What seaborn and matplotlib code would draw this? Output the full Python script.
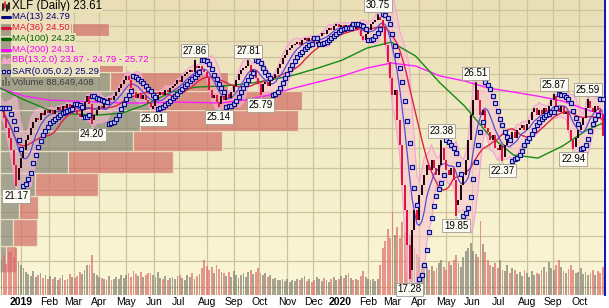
import numpy as np
import pandas as pd
import matplotlib
matplotlib.use("Agg")
import matplotlib.pyplot as plt
import seaborn as sns
from matplotlib.lines import Line2D
from matplotlib.patches import Polygon, Rectangle
from matplotlib.ticker import NullLocator
from matplotlib.transforms import offset_copy

# ---------------------------------------------------------------- data
start_date = "2018-12-07"
end_date = "2020-10-28"

# closes, one every second trading day (trading-day index 1, 3, 5, ...)
closes = [
    25.07, 24.53, 24.00, 23.49, 22.88, 22.15, 21.43, 22.01, 22.49, 22.88,
    23.39, 23.64, 24.00, 24.32, 24.53, 24.43, 24.80, 24.69, 24.96, 24.80,
    24.96, 24.75, 24.96, 25.13, 24.91, 25.18, 25.07, 25.29, 25.07, 25.23,
    24.96, 24.75, 24.59, 24.96, 25.40, 25.73, 25.29, 24.43, 24.69, 24.96,
    25.18, 25.07, 25.40, 25.29, 25.62, 25.51, 25.73, 25.96, 26.18, 26.41,
    26.64, 26.88, 26.64, 26.18, 25.96, 25.62, 25.84, 25.57, 25.79, 25.51,
    25.35, 25.13, 25.18, 25.51, 25.79, 25.96, 25.79, 26.07, 25.96, 26.18,
    26.30, 26.41, 26.64, 26.53, 26.88, 27.00, 27.11, 27.23, 27.11, 27.47,
    27.35, 27.47, 27.23, 27.11, 26.76, 26.07, 25.62, 25.79, 25.40, 25.29,
    25.73, 25.51, 25.84, 25.62, 25.96, 26.30, 26.64, 27.00, 27.23, 27.35,
    27.47, 27.53, 27.11, 27.23, 26.76, 26.41, 25.96, 26.41, 26.53, 26.30,
    26.64, 26.76, 27.00, 27.35, 27.59, 27.95, 28.13, 28.44, 28.56, 28.75,
    28.81, 28.94, 28.75, 29.06, 29.19, 29.00, 29.19, 29.06, 28.81, 28.94,
    29.32, 29.51, 29.45, 29.70, 29.83, 29.70, 29.96, 30.09, 29.90, 30.03,
    29.83, 30.03, 29.90, 30.09, 29.77, 29.96, 29.70, 29.32, 29.06, 29.45,
    29.70, 30.09, 30.23, 30.36, 30.56, 30.36, 29.96, 28.75, 27.71, 26.76,
    25.79, 26.07, 24.43, 23.13, 21.21, 20.07, 18.61, 17.63, 19.22, 20.07,
    19.64, 20.75, 21.21, 21.67, 22.15, 21.90, 22.39, 22.01, 21.67, 22.15,
    22.98, 22.39, 21.90, 21.67, 22.01, 21.43, 20.30, 20.52, 21.21, 21.67,
    22.39, 23.39, 24.69, 25.51, 26.07, 25.51, 24.69, 24.96, 24.00, 23.80,
    23.39, 23.64, 22.98, 22.88, 23.13, 22.54, 23.13, 23.39, 23.28, 23.80,
    23.49, 23.90, 24.00, 24.16, 23.90, 24.21, 24.43, 24.85, 25.07, 24.69,
    24.96, 24.75, 25.07, 24.85, 25.18, 25.51, 25.73, 25.07, 24.85, 25.18,
    24.75, 24.85, 23.90, 23.39, 23.03, 23.49, 23.90, 24.16, 24.53, 25.07,
    25.46, 25.07, 24.85, 25.18, 24.96, 24.75, 23.61,
]

# volume (millions of shares), same sampling as closes
volumes = [
    110, 125, 98, 135, 140, 120, 150, 105, 95,
    85, 72, 66, 60, 75, 58, 62, 70, 55, 64, 52, 60,
    50, 58, 46, 55, 62, 48, 52, 66, 58, 54,
    60, 72, 65, 80, 95, 95, 128, 70, 62, 58,
    55, 50, 48, 60, 46, 52, 58, 50, 62, 55,
    64, 70, 58, 75, 66, 60, 72, 58, 62, 68,
    70, 62, 58, 72, 55, 50, 60, 48, 54, 58,
    52, 60, 64, 55, 48, 62, 58, 70, 52, 60,
    65, 84, 110, 92, 78, 88, 70, 96, 82, 74,
    68, 60, 72, 58, 75, 64, 55, 62, 70, 58,
    72, 80, 66, 74, 85, 70, 62, 68, 58, 64,
    50, 55, 48, 46, 52, 44, 50, 42, 48, 45,
    52, 48, 55, 60, 44, 50, 40, 46, 58, 50,
    45, 55, 48, 42, 52, 58, 46, 50, 60, 55,
    62, 70, 55, 48, 52, 46, 60, 75, 58, 50,
    48, 52, 45, 50, 95, 150, 170, 210, 180, 263,
    190, 215, 180, 230, 200, 175, 190, 160, 150, 130,
    120, 95, 105, 88, 80, 92, 75, 85, 100, 110,
    90, 80, 105, 95, 110, 125, 100, 88, 120, 140,
    150, 165, 140, 130, 120, 234, 160, 135, 110, 95,
    90, 100, 85, 110, 80, 75, 95, 70, 85, 78,
    65, 72, 60, 80, 68, 58, 75, 62, 70, 66,
    78, 90, 72, 105, 85, 80, 95, 110, 88, 75,
    70, 82, 95, 78, 68, 74, 85, 66, 72, 64,
    70, 78, 62, 75, 68, 89,
]

# long moving averages (trading-day index -> value)
ma_long_days = [0, 20, 40, 60, 80, 100, 120, 140, 160, 180, 200, 220, 240,
                260, 280, 300, 320, 340, 360, 380, 400, 420, 440, 460, 480, 493]
ma100_vals = [26.18, 25.51, 24.96, 24.75, 24.69, 24.80, 25.29, 25.96, 26.24,
              26.30, 26.41, 26.64, 26.93, 27.35, 27.83, 28.56, 28.94, 28.07,
              26.47, 25.18, 23.64, 22.64, 22.49, 23.08, 23.90, 24.26]
ma200_vals = [26.18, 25.73, 25.51, 25.46, 25.40, 25.35, 25.35, 25.40, 25.38,
              25.35, 25.51, 25.79, 26.18, 26.53, 26.88, 27.35, 27.65, 27.47,
              26.88, 26.59, 26.18, 25.96, 25.73, 25.46, 24.98, 24.75]

# swing-point annotations (sample number, value)
label_samples = [6, 37, 62, 79, 89, 101, 106, 154, 167, 180, 186, 194, 205, 226, 234, 240]
label_vals = [21.17, 24.20, 25.01, 27.86, 25.14, 27.81, 25.79, 30.75, 17.28,
              23.38, 19.85, 26.51, 22.37, 25.87, 22.94, 25.59]

# volume-by-price bands (price edges), up volume and down volume (M shares)
vbp_edges = [17.55, 18.57, 19.70, 20.73, 21.79, 22.83, 23.87, 24.96, 26.01,
             27.11, 28.26, 29.32, 30.18]
vbp_up = [60, 130, 190, 350, 680, 1330, 1400, 1500, 1100, 900, 500, 720]
vbp_down = [100, 240, 190, 630, 1050, 890, 1580, 1520, 1180, 330, 200, 370]

legend_texts = ["XLF (Daily) 23.61", "MA(13) 24.79", "MA(36) 24.50",
                "MA(100) 24.23", "MA(200) 24.31",
                "BB(13,2.0) 23.87 - 24.79 - 25.72", "SAR(0.05,0.2) 25.29",
                "Volume 88,649,408"]

# ---------------------------------------------------------------- derived
days = pd.bdate_range(start_date, end_date)
n_days = len(days)
xs = np.arange(1, n_days, 2)[:len(closes)]
df = pd.DataFrame({"x": xs, "close": closes, "vol": volumes})
prev = df["close"].shift(1).fillna(df["close"])
up = df["close"] >= prev
df["ma13"] = df["close"].rolling(7, min_periods=1).mean()
df["ma36"] = df["close"].rolling(18, min_periods=1).mean()
sd = df["close"].rolling(7, min_periods=2).std(ddof=0).bfill()
df["bbu"] = df["ma13"] + 2 * sd
df["bbl"] = df["ma13"] - 2 * sd

hi = np.maximum(prev.values, df["close"].values).astype(float)
lo = np.minimum(prev.values, df["close"].values).astype(float)
for j, v in zip(label_samples, label_vals):
    hi[j] = max(hi[j], v)
    lo[j] = min(lo[j], v)


def psar(high, low, step=0.05, amax=0.2):
    n = len(high)
    out = np.zeros(n)
    bull = False
    ep = low[0]
    af = step
    out[0] = high[0]
    for i in range(1, n):
        s = out[i - 1] + af * (ep - out[i - 1])
        if bull:
            s = min(s, low[i - 1], low[max(i - 2, 0)])
            if low[i] < s:
                bull, s, ep, af = False, ep, low[i], step
            elif high[i] > ep:
                ep = high[i]
                af = min(af + step, amax)
        else:
            s = max(s, high[i - 1], high[max(i - 2, 0)])
            if high[i] > s:
                bull, s, ep, af = True, ep, high[i], step
            elif low[i] < ep:
                ep = low[i]
                af = min(af + step, amax)
        out[i] = s
    return out


sar = psar(hi, lo)

# ---------------------------------------------------------------- figure
sns.set_theme(style="white")
plt.rcParams["font.family"] = ["Liberation Sans", "DejaVu Sans"]

W, H = 609, 308
fig = plt.figure(figsize=(W / 100, H / 100), dpi=100)
fig.patch.set_facecolor("white")
rect = [0, 13 / H, 605 / W, 295 / H]
XL = (-0.2, n_days + 0.9)
YL = (16.70, 31.71)
top_rgb = np.array([233, 222, 182]) / 255
bot_rgb = np.array([251, 248, 216]) / 255


def bg_at(py):
    t = min(max(py / 295.0, 0), 1)
    return tuple(top_rgb + (bot_rgb - top_rgb) * t)


def new_ax(z, logy=True, xlim=XL, ylim=YL):
    a = fig.add_axes(rect, label="ax%d" % z)
    a.set_zorder(z)
    a.patch.set_visible(False)
    for s in a.spines.values():
        s.set_visible(False)
    if logy:
        a.set_yscale("log")
    a.set_xlim(*xlim)
    a.set_ylim(*ylim)
    for axis in (a.xaxis, a.yaxis):
        axis.set_major_locator(NullLocator())
        axis.set_minor_locator(NullLocator())
    return a


# gradient background
ax_g = fig.add_axes(rect, label="grad")
ax_g.set_zorder(0)
t = np.linspace(0, 1, 256)[:, None, None]
img = top_rgb[None, None, :] + (bot_rgb - top_rgb)[None, None, :] * t
ax_g.imshow(img, extent=(0, 1, 0, 1), aspect="auto", origin="upper")
ax_g.axis("off")

# grid
ax_bg = new_ax(1)
month_idx = [i for i in range(1, n_days) if days[i].month != days[i - 1].month]
month_lab = [str(days[i].year) if days[i].month == 1 else days[i].strftime("%b")
             for i in month_idx]
gcol = "#cfc39b"
for m in month_idx:
    ax_bg.axvline(m, color=gcol, lw=0.9)
for p in range(17, 32):
    ax_bg.axhline(p, color=gcol, lw=0.9)

# volume by price
ax_v = new_ax(2, xlim=(0, 6050))
for k in range(len(vbp_up)):
    b0, b1 = vbp_edges[k], vbp_edges[k + 1]
    ax_v.barh(b0, vbp_up[k], height=b1 - b0, left=0, align="edge",
              color="#858475", alpha=0.7, edgecolor="#f3edcf", linewidth=0.9)
    ax_v.barh(b0, vbp_down[k], height=b1 - b0, left=vbp_up[k], align="edge",
              color="#d16c64", alpha=0.7, edgecolor="#f3edcf", linewidth=0.9)

# volume
ax_vol = new_ax(3, logy=False, ylim=(0, 933))
vcols = np.where(up, "#817f74", "#dd6c6c")
ax_vol.bar(df["x"], df["vol"], width=1.5, color=vcols, alpha=0.7, linewidth=0)

# price panel
ax = new_ax(4)
ax.fill_between(df["x"], df["bbl"], df["bbu"], color="#f9c3cd", alpha=0.55,
                linewidth=0, zorder=1)
sns.lineplot(x=df["x"], y=df["bbu"], ax=ax, color="#f2a2d6", linewidth=0.8,
             zorder=1.5, sort=False)
sns.lineplot(x=df["x"], y=df["bbl"], ax=ax, color="#f2a2d6", linewidth=0.8,
             zorder=1.5, sort=False)
sns.lineplot(x=ma_long_days, y=ma200_vals, ax=ax, color="#ff1eff",
             linewidth=1.0, zorder=2, sort=False)
sns.lineplot(x=ma_long_days, y=ma100_vals, ax=ax, color="#138a13",
             linewidth=1.0, zorder=2, sort=False)
sns.lineplot(x=df["x"], y=df["ma36"], ax=ax, color="#e0204a", linewidth=1.0,
             zorder=2.5, sort=False)
sns.lineplot(x=df["x"], y=df["ma13"], ax=ax, color="#5a4ad8", linewidth=0.9,
             zorder=2.6, sort=False)
ccols = np.where(up, "#1a0010", "#e0103c")
ax.vlines(df["x"], lo, hi, colors=ccols, linewidth=1.4, zorder=3)
ax.plot(df["x"], sar, ls="none", marker="s", ms=2.4, mfc="#c8c8ee",
        mec="#0a0a90", mew=0.85, zorder=4)
ax.set_xlim(*XL)
ax.set_ylim(*YL)
ax.set_xlabel("")
ax.set_ylabel("")
ax.yaxis.set_major_locator(NullLocator())
ax.yaxis.set_minor_locator(NullLocator())

# swing labels
for j, v in zip(label_samples, label_vals):
    xv = xs[j]
    above = v > closes[j]
    off = 9 if above else -10
    tri = offset_copy(ax.transData, fig=fig, x=0, y=(3.5 if above else -3.5),
                      units="dots")
    ax.plot([xv], [v], marker="v" if above else "^", ms=5, color="#ece7da",
            mec="#b0a898", mew=0.4, transform=tri, zorder=5, ls="none")
    ax.annotate("%.2f" % v, xy=(xv, v), xytext=(0, off),
                textcoords="offset pixels", ha="center", va="center",
                fontsize=7, color="black", zorder=6,
                bbox=dict(boxstyle="square,pad=0.18", fc="#fbfaf3",
                          ec="#a09a8e", lw=0.6))

# x ticks
ax.xaxis.set_major_locator(plt.FixedLocator(month_idx))
ax.set_xticklabels(month_lab)
ax.tick_params(axis="x", length=0, pad=1.2, labelsize=7.5, colors="black")
for tl in ax.get_xticklabels():
    if tl.get_text().isdigit():
        tl.set_fontweight("bold")
ax.spines["right"].set_visible(True)
ax.spines["right"].set_color("#1010c8")
ax.spines["right"].set_linewidth(1.4)

# legend block
def fx(px):
    return px / W


def fy(py):
    return 1 - py / H


row_y = [6, 16.5, 27.5, 38.5, 49.5, 60, 71, 82]
row_col = ["#000000", "#000080", "#dd1133", "#006400", "#ff00ff", "#ee00ee",
           "#000080", "#404040"]
for i, (txt, c, yy) in enumerate(zip(legend_texts, row_col, row_y)):
    fs = 8.3 if i == 0 else 6.8
    kw = {}
    if i < 7:
        kw["bbox"] = dict(boxstyle="square,pad=0.12", fc=bg_at(yy), ec="none")
    fig.text(fx(12), fy(yy), txt, color=c, fontsize=fs, ha="left",
             va="center", zorder=20, **kw)
    if i == 0:
        for k, (h1, h2, cc) in enumerate([(3, 9, "#000000"), (1, 7, "#e0103c"),
                                          (4, 10, "#000000"), (2, 8, "#000000")]):
            fig.add_artist(Line2D([fx(2.5 + 2 * k)] * 2, [fy(yy - 5 + h1), fy(yy - 5 + h2)],
                                  color=cc, lw=1.2, zorder=21))
    elif 1 <= i <= 4:
        fig.add_artist(Line2D([fx(2), fx(10)], [fy(yy), fy(yy)], color=c,
                              lw=2.2, zorder=21))
    elif i == 5:
        fig.add_artist(Polygon([(fx(1), fy(yy + 4)), (fx(4), fy(yy - 4)),
                                (fx(7), fy(yy)), (fx(10), fy(yy - 3)),
                                (fx(11), fy(yy + 4))], closed=True,
                               transform=fig.transFigure, fc="#f4a8c8",
                               ec="none", zorder=21))
    elif i == 6:
        for sx in (2, 7):
            fig.add_artist(Rectangle((fx(sx), fy(yy + 1.5)), 3 / W, 3 / H,
                                     transform=fig.transFigure, fc="#d8d8f2",
                                     ec="#0a0a90", lw=0.8, zorder=21))
    elif i == 7:
        for sx, hh in ((2, 6), (5, 9), (8, 5)):
            fig.add_artist(Rectangle((fx(sx), fy(yy + 4)), 2 / W, hh / H,
                                     transform=fig.transFigure, fc="#6e6e66",
                                     ec="none", zorder=21))

fig.savefig("out.png", dpi=100, facecolor="white")
